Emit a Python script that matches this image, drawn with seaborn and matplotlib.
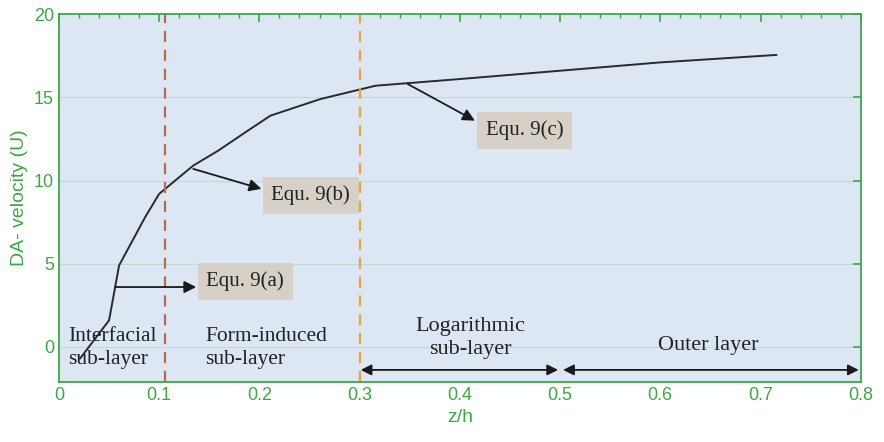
import numpy as np
import pandas as pd
import matplotlib
matplotlib.use("Agg")
import matplotlib.pyplot as plt
import seaborn as sns
from matplotlib.ticker import MultipleLocator, FuncFormatter

# data
z_h = [0.021, 0.050, 0.060, 0.086, 0.100, 0.134, 0.159, 0.186, 0.211, 0.261, 0.316, 0.40, 0.50, 0.60, 0.716]
velocity = [-0.7, 1.6, 4.9, 7.8, 9.2, 10.9, 11.8, 12.9, 13.9, 14.9, 15.7, 16.1, 16.6, 17.1, 17.55]
boundaries = [0.106, 0.30]
boundary_colors = ["#b86a4e", "#e8a23c"]
layer_labels = ["Interfacial\nsub-layer", "Form-induced\nsub-layer", "Logarithmic\nsub-layer", "Outer layer"]
eq_labels = ["Equ. 9(a)", "Equ. 9(b)", "Equ. 9(c)"]

green = "#3aa845"
df = pd.DataFrame({"z/h": z_h, "U": velocity})

sns.set_theme(style="white")
plt.rcParams['font.family'] = ['Liberation Sans', 'DejaVu Sans']
fig = plt.figure(figsize=(8.84, 4.42), dpi=100)
ax = fig.add_axes([0.0667, 0.136, 0.907, 0.832])
ax.set_facecolor("#dde7f3")

sns.lineplot(data=df, x="z/h", y="U", ax=ax, color="#2a2a2a", linewidth=1.4)

ax.set_xlim(0, 0.8)
ax.set_ylim(-2.1, 20)
ax.xaxis.set_major_locator(MultipleLocator(0.1))
ax.xaxis.set_minor_locator(MultipleLocator(0.02))
ax.yaxis.set_major_locator(MultipleLocator(5))
ax.xaxis.set_major_formatter(FuncFormatter(lambda v, p: "0" if abs(v) < 1e-9 else f"{v:.1f}"))

for yv in [0, 5, 10, 15]:
    ax.axhline(yv, color="#b8dcd8", lw=0.8, zorder=0)

for s in ax.spines.values():
    s.set_color(green)
    s.set_linewidth(1.3)
ax.tick_params(axis="both", which="both", direction="in", colors=green, top=True, right=True,
               labelcolor=green, labelsize=13)
ax.tick_params(which="major", length=6, width=1.2)
ax.tick_params(which="minor", length=3, width=1.0)
ax.tick_params(axis="y", which="minor", left=False, right=False)
ax.set_xlabel("z/h", color=green, fontsize=14)
ax.set_ylabel("DA- velocity (U)", color=green, fontsize=14)

for b, c in zip(boundaries, boundary_colors):
    ax.axvline(b, color=c, lw=1.6, ls=(0, (5, 3.5)))

serif = ["Liberation Serif", "DejaVu Serif"]
tc = "#222222"
# layer labels
ax.text(0.009, -0.05, layer_labels[0], family=serif, fontsize=15.5, color=tc, va="center", ha="left", linespacing=1.25)
ax.text(0.146, -0.05, layer_labels[1], family=serif, fontsize=15.5, color=tc, va="center", ha="left", linespacing=1.25)
ax.text(0.41, 0.55, layer_labels[2], family=serif, fontsize=16, color=tc, va="center", ha="center", linespacing=1.25)
ax.text(0.648, 0.1, layer_labels[3], family=serif, fontsize=16, color=tc, va="center", ha="center")

# double arrows
arrow_kw = dict(arrowstyle="<|-|>", color="#1a1a1a", lw=1.3, mutation_scale=16, shrinkA=0, shrinkB=0)
ax.annotate("", xy=(0.498, -1.38), xytext=(0.301, -1.38), arrowprops=arrow_kw)
ax.annotate("", xy=(0.798, -1.38), xytext=(0.503, -1.38), arrowprops=arrow_kw)

# equation annotations
box = dict(boxstyle="square,pad=0.42", fc="#d6d0c6", ec="none")
akw = dict(arrowstyle="-|>", color="#1a1a1a", lw=1.3, mutation_scale=18, shrinkA=0, shrinkB=0)
ax.annotate("", xy=(0.137, 3.6), xytext=(0.056, 3.6), arrowprops=akw)
ax.text(0.147, 3.95, eq_labels[0], family=serif, fontsize=15, color=tc, va="center", ha="left", bbox=box)
ax.annotate("", xy=(0.202, 9.5), xytext=(0.134, 10.7), arrowprops=akw)
ax.text(0.212, 9.1, eq_labels[1], family=serif, fontsize=15, color=tc, va="center", ha="left", bbox=box)
ax.annotate("", xy=(0.415, 13.6), xytext=(0.348, 15.8), arrowprops=akw)
ax.text(0.426, 13.0, eq_labels[2], family=serif, fontsize=15, color=tc, va="center", ha="left", bbox=box)

fig.savefig("out.png", dpi=100)
